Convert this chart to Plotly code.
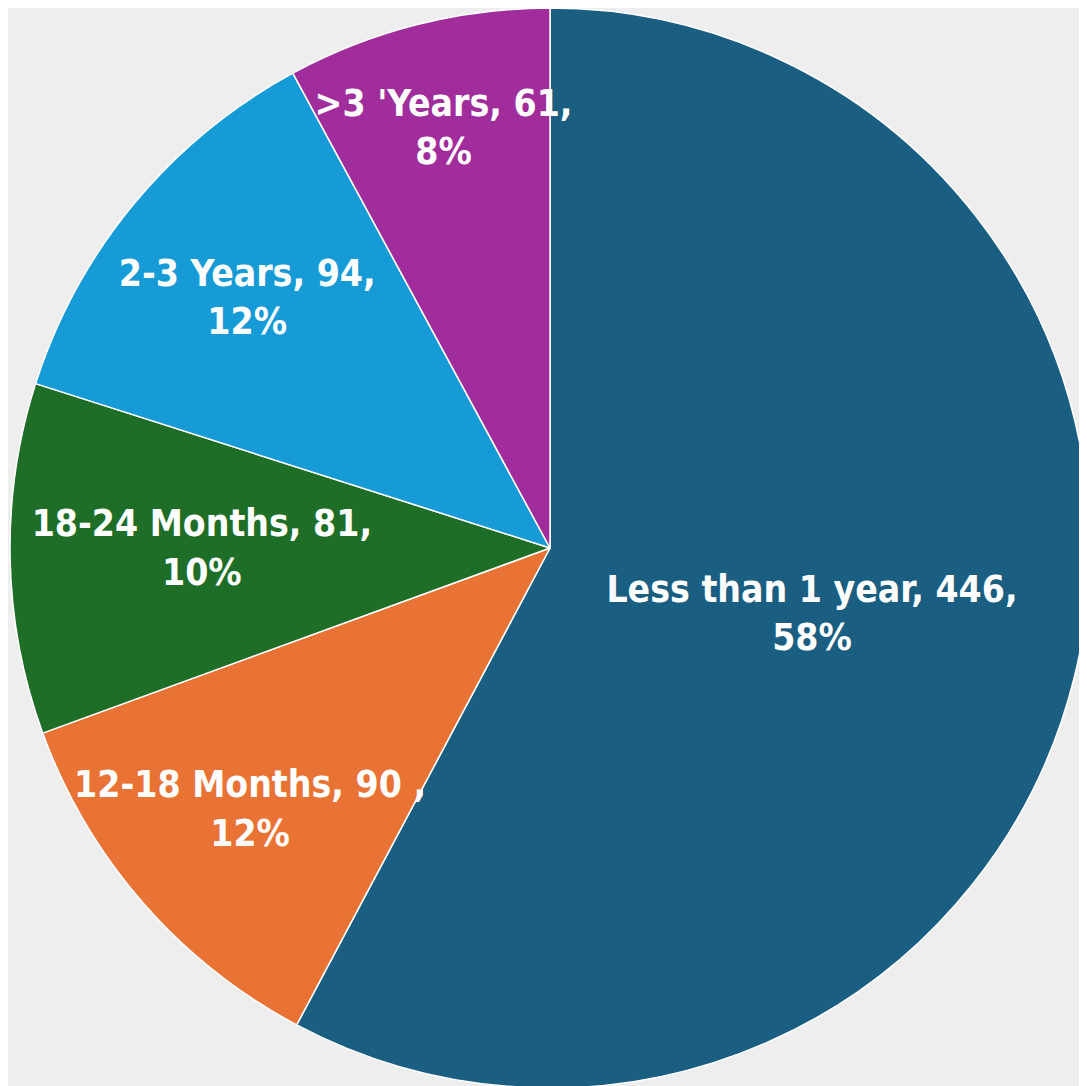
import plotly.graph_objects as go

labels = ["Less than 1 year", "12-18 Months", "18-24 Months", "2-3 Years", ">3 'Years"]
values = [446, 90, 81, 94, 61]
separators = [",", " ,", ",", ",", ","]
colors = ["#1a5e82", "#e97334", "#1e6e28", "#169bd7", "#a02d9b"]

fig = go.Figure(go.Pie(
    labels=labels,
    values=values,
    customdata=separators,
    sort=False,
    direction="clockwise",
    rotation=0,
    marker=dict(colors=colors, line=dict(color="#ffffff", width=1.5)),
    texttemplate="%{label}, %{value}%{customdata}<br>%{percent:.0%}",
    textposition="inside",
    insidetextorientation="horizontal",
    textfont=dict(family="DejaVu Sans Condensed, Liberation Sans Narrow, sans-serif", size=37, color="#ffffff", weight="bold"),
    hoverinfo="label+value+percent",
    showlegend=False,
))

fig.update_layout(
    width=1087,
    height=1086,
    margin=dict(l=2, r=5, t=0, b=6),
    paper_bgcolor="#eeeeee",
    plot_bgcolor="#eeeeee",
    uniformtext=dict(minsize=37, mode="show"),
)

fig.write_html("out.html")
